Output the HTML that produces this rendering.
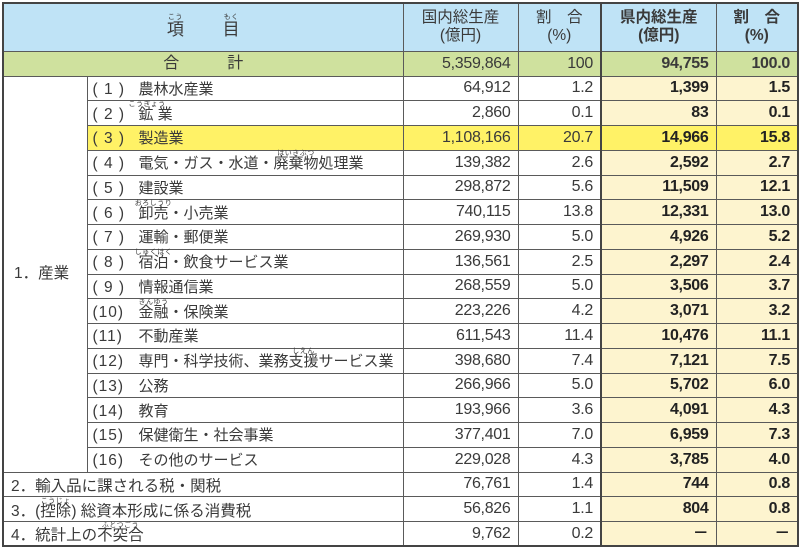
<!DOCTYPE html>
<html><head><meta charset="utf-8">
<style>
html,body{margin:0;padding:0;background:#fff;width:800px;height:550px;overflow:hidden}
body{font-family:"Liberation Sans","Noto Sans CJK JP",sans-serif;color:#3a3a3a;font-size:15px}
table{position:absolute;left:2px;top:2px;border-collapse:collapse;table-layout:fixed;border:2.5px solid #444}
td{border:1px solid #5a5a5a;padding:0;white-space:nowrap;line-height:1;overflow:visible}
td.n{text-align:right;padding-right:7px;font-size:16px;letter-spacing:-0.3px}
td.p{background:#fdf4cf;font-weight:bold;color:#222}
td.sep{border-left:2.5px solid #444}
tr.hd td{background:#bfe3f6;text-align:center;line-height:1.2;font-size:15.5px;vertical-align:middle}
tr.tot td{background:#cfe19e;font-size:16px}
tr.y td{background:#fff266}
tr.y td.p{background:#fff266}
td.it{padding-left:5px;vertical-align:bottom;padding-bottom:3px;font-size:15px}
td.it2{padding-left:7px;vertical-align:bottom;padding-bottom:2px;font-size:15.5px}
.r{position:relative;display:inline-block}
.r i{position:absolute;font-style:normal;font-size:7px;top:-6px;left:-10px;right:-10px;text-align:center;letter-spacing:0.5px}
.b{display:inline-block;width:46px;letter-spacing:1px;font-size:15.5px}
</style></head><body>
<table>
<colgroup><col style="width:84px"><col style="width:316px"><col style="width:115px"><col style="width:83px"><col style="width:115px"><col style="width:82px"></colgroup>
<tr class="hd" style="height:48px"><td colspan="2" style="padding-top:6px;font-size:17px"><span class="r">項<i>こう</i></span>　　 <span class="r">目<i>もく</i></span></td><td>国内総生産<br>(億円)</td><td>割　合<br>(%)</td><td class="sep" style="font-weight:bold">県内総生産<br>(億円)</td><td style="font-weight:bold">割　合<br>(%)</td></tr>
<tr class="tot" style="height:25px"><td colspan="2" style="text-align:center">合　　　計</td><td class="n">5,359,864</td><td class="n">100</td><td class="n sep" style="font-weight:bold">94,755</td><td class="n" style="font-weight:bold">100.0</td></tr>
<tr style="height:24.75px"><td rowspan="16" style="padding-left:10px;vertical-align:middle;font-size:15.5px">1．産業</td><td class="it"><span class="b">( 1 )</span>農林水産業</td><td class="n">64,912</td><td class="n">1.2</td><td class="n p sep">1,399</td><td class="n p">1.5</td></tr>
<tr style="height:24.75px"><td class="it"><span class="b">( 2 )</span><span class="r">鉱<i>こうぎょう</i></span> 業</td><td class="n">2,860</td><td class="n">0.1</td><td class="n p sep">83</td><td class="n p">0.1</td></tr>
<tr class="y" style="height:24.75px"><td class="it"><span class="b">( 3 )</span>製造業</td><td class="n">1,108,166</td><td class="n">20.7</td><td class="n p sep">14,966</td><td class="n p">15.8</td></tr>
<tr style="height:24.75px"><td class="it"><span class="b">( 4 )</span>電気・ガス・水道・<span class="r">廃棄物<i>はいきぶつ</i></span>処理業</td><td class="n">139,382</td><td class="n">2.6</td><td class="n p sep">2,592</td><td class="n p">2.7</td></tr>
<tr style="height:24.75px"><td class="it"><span class="b">( 5 )</span>建設業</td><td class="n">298,872</td><td class="n">5.6</td><td class="n p sep">11,509</td><td class="n p">12.1</td></tr>
<tr style="height:24.75px"><td class="it"><span class="b">( 6 )</span><span class="r">卸売<i>おろしうり</i></span>・小売業</td><td class="n">740,115</td><td class="n">13.8</td><td class="n p sep">12,331</td><td class="n p">13.0</td></tr>
<tr style="height:24.75px"><td class="it"><span class="b">( 7 )</span>運輸・郵便業</td><td class="n">269,930</td><td class="n">5.0</td><td class="n p sep">4,926</td><td class="n p">5.2</td></tr>
<tr style="height:24.75px"><td class="it"><span class="b">( 8 )</span><span class="r">宿泊<i>しゅくはく</i></span>・飲食サービス業</td><td class="n">136,561</td><td class="n">2.5</td><td class="n p sep">2,297</td><td class="n p">2.4</td></tr>
<tr style="height:24.75px"><td class="it"><span class="b">( 9 )</span>情報通信業</td><td class="n">268,559</td><td class="n">5.0</td><td class="n p sep">3,506</td><td class="n p">3.7</td></tr>
<tr style="height:24.75px"><td class="it"><span class="b">(10)</span><span class="r">金融<i>きんゆう</i></span>・保険業</td><td class="n">223,226</td><td class="n">4.2</td><td class="n p sep">3,071</td><td class="n p">3.2</td></tr>
<tr style="height:24.75px"><td class="it"><span class="b">(11)</span>不動産業</td><td class="n">611,543</td><td class="n">11.4</td><td class="n p sep">10,476</td><td class="n p">11.1</td></tr>
<tr style="height:24.75px"><td class="it"><span class="b">(12)</span>専門・科学技術、業務<span class="r">支援<i>しえん</i></span>サービス業</td><td class="n">398,680</td><td class="n">7.4</td><td class="n p sep">7,121</td><td class="n p">7.5</td></tr>
<tr style="height:24.75px"><td class="it"><span class="b">(13)</span>公務</td><td class="n">266,966</td><td class="n">5.0</td><td class="n p sep">5,702</td><td class="n p">6.0</td></tr>
<tr style="height:24.75px"><td class="it"><span class="b">(14)</span>教育</td><td class="n">193,966</td><td class="n">3.6</td><td class="n p sep">4,091</td><td class="n p">4.3</td></tr>
<tr style="height:24.75px"><td class="it"><span class="b">(15)</span>保健衛生・社会事業</td><td class="n">377,401</td><td class="n">7.0</td><td class="n p sep">6,959</td><td class="n p">7.3</td></tr>
<tr style="height:24.75px"><td class="it"><span class="b">(16)</span>その他のサービス</td><td class="n">229,028</td><td class="n">4.3</td><td class="n p sep">3,785</td><td class="n p">4.0</td></tr>
<tr style="height:24.75px"><td colspan="2" class="it2">2．輸入品に課される税・関税</td><td class="n">76,761</td><td class="n">1.4</td><td class="n p sep">744</td><td class="n p">0.8</td></tr>
<tr style="height:24.75px"><td colspan="2" class="it2">3．(<span class="r">控除<i>こうじょ</i></span>) 総資本形成に係る消費税</td><td class="n">56,826</td><td class="n">1.1</td><td class="n p sep">804</td><td class="n p">0.8</td></tr>
<tr style="height:24.75px"><td colspan="2" class="it2">4．統計上の<span class="r">不突合<i>ふとつごう</i></span></td><td class="n">9,762</td><td class="n">0.2</td><td class="n p sep">－</td><td class="n p">－</td></tr>
</table>
</body></html>
